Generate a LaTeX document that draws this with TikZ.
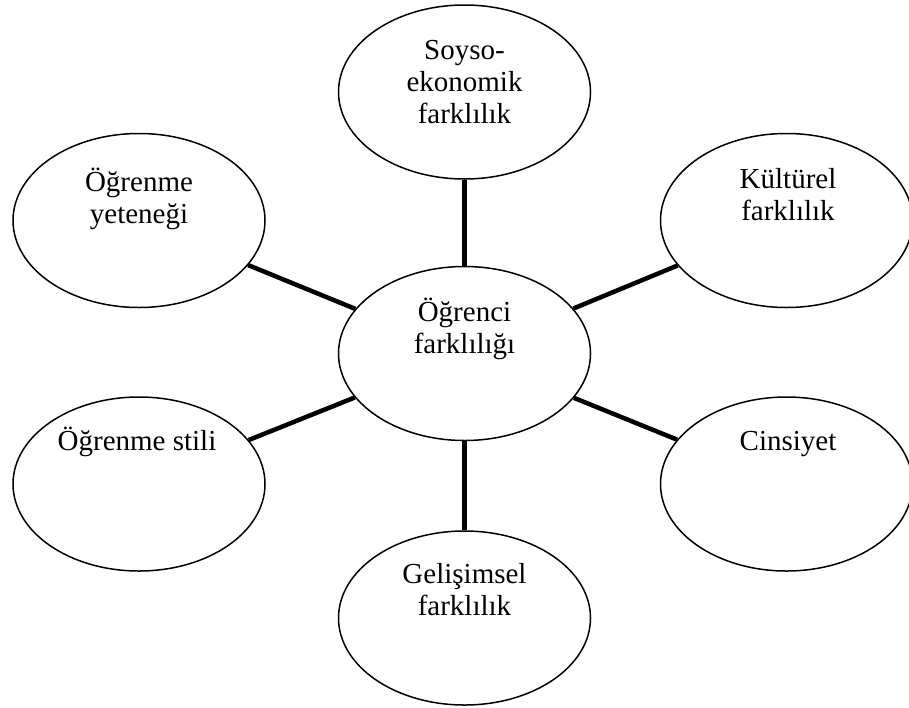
\documentclass[tikz,border=0pt]{standalone}
\usepackage{fontspec}
\setmainfont{Liberation Serif}
\usetikzlibrary{shapes.geometric}
\begin{document}
\begin{tikzpicture}[x=1pt, y=-1pt,
    bubble/.style={draw, ellipse, line width=1.5pt, minimum width=252pt, minimum height=174pt, inner sep=0pt},
    txt/.style={align=center, anchor=base, inner sep=0pt, font=\fontsize{29}{32}\selectfont},
    spoke/.style={line width=4.5pt}]
  \useasboundingbox (0,0) rectangle (909,707);
  \node[bubble] (merkez) at (464.5,353.5) {};
  \node[bubble] (soyso) at (464.5,92) {};
  \node[bubble] (kultur) at (786.5,220.5) {};
  \node[bubble] (cinsiyet) at (786.5,484) {};
  \node[bubble] (gelisim) at (464.5,618) {};
  \node[bubble] (stil) at (139,484) {};
  \node[bubble] (yetenek) at (139,220.5) {};
  % texts sit in the upper half, anchored on the last baseline
  \node[txt] (merkezT) at (464.5,353) {Öğrenci\\farklılığı};
  \node[txt] (soysoT) at (464.5,123) {Soyso-\\ekonomik\\farklılık};
  \node[txt] (kulturT) at (788,220) {Kültürel\\farklılık};
  \node[txt] (cinsiyetT) at (788,450) {Cinsiyet};
  \node[txt] (gelisimT) at (464.5,615) {Gelişimsel\\farklılık};
  \node[txt] (stilT) at (137,450) {Öğrenme stili};
  \node[txt] (yetenekT) at (139,223) {Öğrenme\\yeteneği};
  \foreach \n in {soyso, kultur, cinsiyet, gelisim, stil, yetenek}
    \draw[spoke] (merkez) -- (\n);
\end{tikzpicture}
\end{document}
